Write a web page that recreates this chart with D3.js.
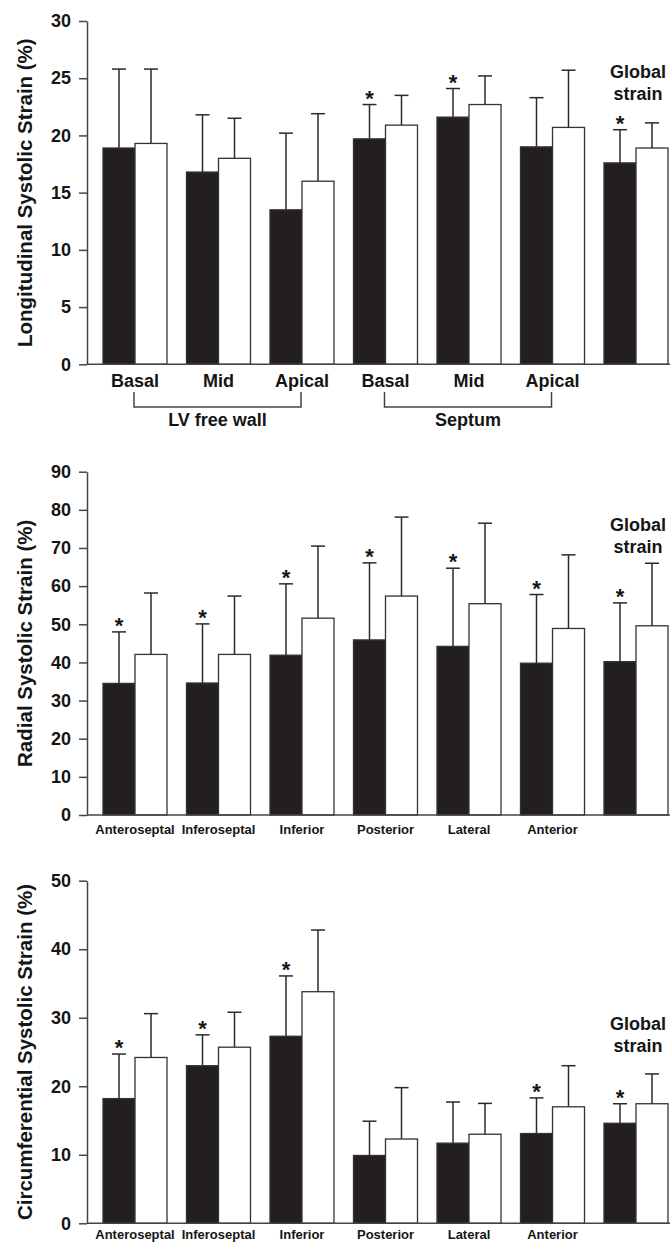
<!DOCTYPE html>
<html>
<head>
<meta charset="utf-8">
<script src="https://cdn.jsdelivr.net/npm/d3@7"></script>
<style>
body { margin: 0; background: #fff; }
text { font-family: "Liberation Sans", Arial, sans-serif; font-weight: bold; fill: #151515; }
</style>
</head>
<body>
<div id="chart"></div>
<script>
// data, black = patients, white = controls
var longCats = ["Basal", "Mid", "Apical", "Basal", "Mid", "Apical", ""];
var longPatients = [18.9, 16.8, 13.5, 19.7, 21.6, 19.0, 17.6];
var longPatientsSD = [6.9, 5.0, 6.7, 3.0, 2.5, 4.3, 2.9];
var longControls = [19.3, 18.0, 16.0, 20.9, 22.7, 20.7, 18.9];
var longControlsSD = [6.5, 3.5, 5.9, 2.6, 2.5, 5.0, 2.2];
var longStars = [false, false, false, true, true, false, true];
var longTicks = [0, 5, 10, 15, 20, 25, 30];

var segCats = ["Anteroseptal", "Inferoseptal", "Inferior", "Posterior", "Lateral", "Anterior", ""];

var radPatients = [34.5, 34.6, 41.9, 45.9, 44.2, 39.8, 40.2];
var radPatientsSD = [13.5, 15.5, 18.7, 20.2, 20.5, 18.0, 15.4];
var radControls = [42.1, 42.1, 51.6, 57.4, 55.4, 48.9, 49.6];
var radControlsSD = [16.1, 15.3, 18.9, 20.7, 21.1, 19.3, 16.4];
var radStars = [true, true, true, true, true, true, true];
var radTicks = [0, 10, 20, 30, 40, 50, 60, 70, 80, 90];

var circPatients = [18.2, 23.0, 27.3, 9.9, 11.7, 13.1, 14.6];
var circPatientsSD = [6.5, 4.5, 8.8, 5.0, 6.0, 5.2, 2.85];
var circControls = [24.2, 25.7, 33.8, 12.3, 13.0, 17.0, 17.45];
var circControlsSD = [6.4, 5.1, 9.0, 7.5, 4.5, 6.0, 4.35];
var circStars = [true, true, true, false, false, true, true];
var circTicks = [0, 10, 20, 30, 40, 50];

var groups = ["LV free wall", "Septum"];

//general setup
var width = 670,
    height = 1243,
    axisX = 87;

var svg = d3.select("#chart").append("svg")
    .attr("width", width)
    .attr("height", height);

function drawPanel(p) {
    var y = d3.scaleLinear()
        .domain([0, d3.max(p.ticks)])
        .range([p.bottom, p.top]);

    var x = d3.scaleBand()
        .domain(d3.range(p.cats.length))
        .range([93.25, 677.75]);

    var sub = d3.scaleBand()
        .domain(["patients", "controls"])
        .range([-32, 32]);

    var g = svg.append("g");

    // y axis
    var yAxis = g.append("g")
        .attr("transform", "translate(" + axisX + ",0)")
        .call(d3.axisLeft(y).tickValues(p.ticks).tickSize(8).tickSizeOuter(0).tickPadding(8));
    yAxis.selectAll("path, line").attr("stroke", "#444").attr("stroke-width", 1.5);
    yAxis.selectAll("text").style("font-size", "18px").attr("fill", "#151515");

    // y axis title
    g.append("text")
        .attr("transform", "translate(25," + (p.top + p.bottom) / 2 + ") rotate(-90)")
        .attr("dy", "0.35em")
        .attr("text-anchor", "middle")
        .style("font-size", "20.5px")
        .text(p.title);

    var rows = p.cats.map(function (c, i) {
        return [
            { i: i, key: "patients", v: p.patients[i], sd: p.patientsSD[i], star: p.stars[i] },
            { i: i, key: "controls", v: p.controls[i], sd: p.controlsSD[i], star: false }
        ];
    });
    var flat = d3.merge(rows);

    function cx(d) {
        return x(d.i) + x.bandwidth() / 2 + sub(d.key) + sub.bandwidth() / 2;
    }

    // error bars
    g.selectAll(".err").data(flat).enter().append("line")
        .attr("x1", cx).attr("x2", cx)
        .attr("y1", function (d) { return y(d.v); })
        .attr("y2", function (d) { return y(d.v + d.sd); })
        .attr("stroke", "#2a2a2a").attr("stroke-width", 1.5);
    g.selectAll(".cap").data(flat).enter().append("line")
        .attr("x1", function (d) { return cx(d) - 7; })
        .attr("x2", function (d) { return cx(d) + 7; })
        .attr("y1", function (d) { return y(d.v + d.sd); })
        .attr("y2", function (d) { return y(d.v + d.sd); })
        .attr("stroke", "#2a2a2a").attr("stroke-width", 1.5);

    // bars
    g.selectAll(".bar").data(flat).enter().append("rect")
        .attr("x", function (d) { return x(d.i) + x.bandwidth() / 2 + sub(d.key); })
        .attr("y", function (d) { return y(d.v); })
        .attr("width", sub.bandwidth())
        .attr("height", function (d) { return y(0) - y(d.v); })
        .attr("fill", function (d) { return d.key == "patients" ? "#231f20" : "#fff"; })
        .attr("stroke", "#333")
        .attr("stroke-width", 1.3);

    // significance stars
    g.selectAll(".star").data(flat.filter(function (d) { return d.star; })).enter().append("text")
        .attr("x", cx)
        .attr("y", function (d) { return y(d.v + d.sd) + 1; })
        .attr("text-anchor", "middle")
        .style("font-size", "22px")
        .text("*");

    // x baseline
    g.append("line")
        .attr("x1", axisX).attr("x2", width)
        .attr("y1", y(0)).attr("y2", y(0))
        .attr("stroke", "#444").attr("stroke-width", 1.5);

    // category labels
    var xAxis = g.append("g")
        .attr("transform", "translate(0," + y(0) + ")")
        .call(d3.axisBottom(x).tickSize(0).tickPadding(p.catPad).tickFormat(function (i) { return p.cats[i]; }));
    xAxis.select(".domain").remove();
    xAxis.selectAll("text").style("font-size", p.catSize).attr("fill", "#151515");

    // global strain note
    var note = g.append("text")
        .attr("x", 638)
        .attr("y", y(p.noteAt))
        .attr("text-anchor", "middle")
        .style("font-size", "18px");
    note.append("tspan").attr("x", 638).text("Global");
    note.append("tspan").attr("x", 638).attr("dy", 22).text("strain");

    return { x: x, y: y, g: g };
}

var top1 = drawPanel({
    cats: longCats, patients: longPatients, patientsSD: longPatientsSD,
    controls: longControls, controlsSD: longControlsSD, stars: longStars,
    ticks: longTicks, top: 21, bottom: 364.3, noteAt: 25.0, catSize: "18px", catPad: 10,
    title: "Longitudinal Systolic Strain (%)"
});

// brackets under the longitudinal panel
[[0, 2], [3, 5]].forEach(function (r, k) {
    var x0 = top1.x(r[0]) + top1.x.bandwidth() / 2 - 1,
        x1 = top1.x(r[1]) + top1.x.bandwidth() / 2 - 1;
    top1.g.append("path")
        .attr("d", "M" + x0 + ",392V407H" + x1 + "V392")
        .attr("fill", "none")
        .attr("stroke", "#444")
        .attr("stroke-width", 1.5);
    top1.g.append("text")
        .attr("x", (x0 + x1) / 2)
        .attr("y", 426)
        .attr("text-anchor", "middle")
        .style("font-size", "18px")
        .text(groups[k]);
});

drawPanel({
    cats: segCats, patients: radPatients, patientsSD: radPatientsSD,
    controls: radControls, controlsSD: radControlsSD, stars: radStars,
    ticks: radTicks, top: 471.7, bottom: 815, noteAt: 74.4, catSize: "13px", catPad: 10,
    title: "Radial Systolic Strain (%)"
});

drawPanel({
    cats: segCats, patients: circPatients, patientsSD: circPatientsSD,
    controls: circControls, controlsSD: circControlsSD, stars: circStars,
    ticks: circTicks, top: 880.7, bottom: 1223.3, noteAt: 28.2, catSize: "13px", catPad: 6,
    title: "Circumferential Systolic Strain (%)"
});
</script>
</body>
</html>
